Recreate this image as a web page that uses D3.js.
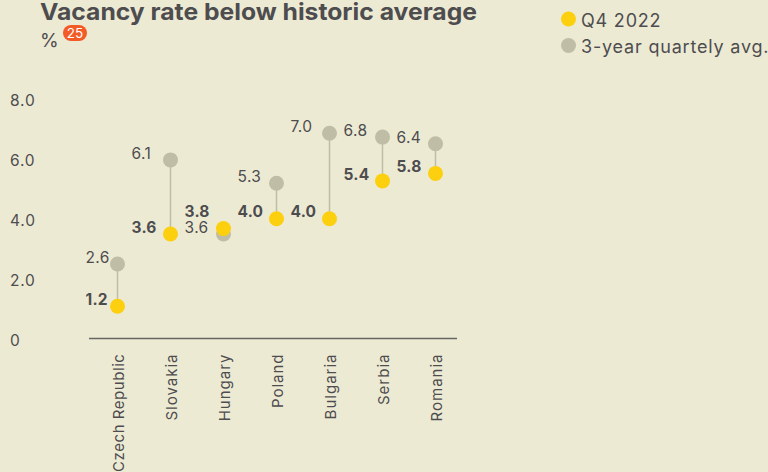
<!DOCTYPE html>
<html><head><meta charset="utf-8">
<script src="https://cdn.jsdelivr.net/npm/d3@7"></script>
<style>html,body{margin:0;background:#edead4;overflow:hidden}svg{display:block}text{font-family:Inter,sans-serif;fill:#4d4d4f}</style>
</head><body><div id="c"></div>
<script>
const categories=["Czech Republic","Slovakia","Hungary","Poland","Bulgaria","Serbia","Romania"];
// marker positions
const q4=[1.19,3.6,3.78,4.11,4.11,5.37,5.62];
const avg=[2.6,6.07,3.6,5.29,6.96,6.83,6.61];
// printed value labels
const q4Labels=["1.2","3.6","3.8","4.0","4.0","5.4","5.8"];
const avgLabels=["2.6","6.1","3.6","5.3","7.0","6.8","6.4"];
const yTicks=[0,2,4,6,8];
const yTickLabels=["0","2.0","4.0","6.0","8.0"];
const seriesNames=["Q4 2022","3-year quartely avg."];
const colors=["#fccf0f","#bfbda5"];
const W=768,H=472;
const svg=d3.select("#c").append("svg").attr("width",W).attr("height",H);
const x=d3.scalePoint().domain(categories).range([117.5,435.5]);
const y=d3.scaleLinear().domain([0,8]).range([342,102]);
function t(s,px,py,size,weight,ls){return svg.append("text").attr("x",px).attr("y",py).attr("font-size",size).attr("font-weight",weight||400).attr("letter-spacing",ls||0).text(s);}
t("Vacancy rate below historic average",40,20,23.5,700).attr("textLength",437).attr("lengthAdjust","spacingAndGlyphs");
t("%",40,46.5,19,400);
svg.append("rect").attr("x",63).attr("y",25).attr("width",24).attr("height",16).attr("rx",8).attr("fill","#f25a26");
t("25",75,38,13.5,400).attr("text-anchor","middle").style("fill","#fff");
yTicks.forEach((v,i)=>t(yTickLabels[i],10,y(v)+4,15.5,400,0.8));
svg.append("line").attr("x1",89).attr("x2",457).attr("y1",338.5).attr("y2",338.5).attr("stroke","#666662").attr("stroke-width",1.3);
categories.forEach((c,i)=>{
 const px=x(c), lx=px-(i===0?32:39), hu=c==="Hungary";
 svg.append("line").attr("x1",px).attr("x2",px).attr("y1",y(avg[i])).attr("y2",y(q4[i])).attr("stroke",colors[1]).attr("stroke-width",1.5);
 svg.append("circle").attr("cx",px).attr("cy",y(avg[i])).attr("r",7.5).attr("fill",colors[1]);
 svg.append("circle").attr("cx",px).attr("cy",y(q4[i])).attr("r",7.5).attr("fill",colors[0]);
 t(avgLabels[i],lx,y(avg[i])-1.2,15.5,400,0.4);
 t(q4Labels[i],lx,y(q4[i])-(hu?11.6:1.3),15.5,700,0.2);
 svg.append("text").attr("transform",`translate(${px+6.5},353.5) rotate(-90)`).attr("font-size",15).attr("letter-spacing",i===0?0.55:1).attr("text-anchor","end").text(c);
});
seriesNames.forEach((s,i)=>{
 svg.append("circle").attr("cx",568.5).attr("cy",19+i*26.5).attr("r",7.5).attr("fill",colors[i]);
 t(s,581,27+i*26,18,400,0.8);
});
</script></body></html>
